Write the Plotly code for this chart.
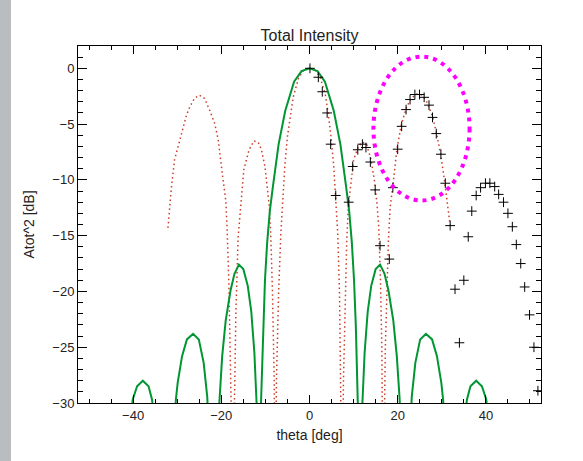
import plotly.graph_objects as go

# ---- data ----
green_x = [-42.0, -40.4, -40.1, -39.1, -37.8, -36.5, -35.7, -35.4, -33.0,
           -30.5, -30.3, -29.9, -28.9, -27.8, -26.4, -25.1, -24.0, -23.2, -23.0, -21.8,
           -20.6, -20.4, -19.8, -19.0, -17.9, -17.0, -16.0, -15.0, -14.0, -13.2, -12.5, -12.0, -11.6,
           -11.3, -11.0, -10.8, -10.5, -10.1, -9.6, -9.0, -8.3, -7.0, -5.5, -3.5, -1.8, 0.0,
           1.8, 3.5, 5.5, 7.0, 8.3, 9.0, 9.6, 10.1, 10.5, 10.8, 11.0, 11.3,
           11.6, 12.0, 12.5, 13.2, 14.0, 15.0, 16.0, 17.0, 17.9, 19.0, 19.8, 20.4, 20.6, 21.8,
           23.0, 23.2, 24.0, 25.1, 26.4, 27.8, 28.9, 29.9, 30.3, 30.5, 33.0,
           35.4, 35.7, 36.5, 37.8, 39.1, 40.1, 40.4, 42.0]
green_y = [-40, -31, -29.7, -28.5, -28.0, -28.5, -29.7, -31, -40,
           -31, -29.7, -28.2, -25.8, -24.3, -23.8, -24.3, -26.4, -29.4, -31, -40,
           -31, -29.4, -25.8, -22.6, -19.9, -18.4, -17.6, -18.0, -19.5, -21.8, -25.5, -30, -40,
           -40, -30, -27, -23, -19, -15.6, -12.8, -10.6, -6.8, -3.8, -1.2, -0.25, 0.0,
           -0.25, -1.2, -3.8, -6.8, -10.6, -12.8, -15.6, -19, -23, -27, -30, -40,
           -40, -30, -25.5, -21.8, -19.5, -18.0, -17.6, -18.4, -19.9, -22.6, -25.8, -29.4, -31, -40,
           -31, -29.4, -26.4, -24.3, -23.8, -24.3, -25.8, -28.2, -29.7, -31, -40,
           -31, -29.7, -28.5, -28.0, -28.5, -29.7, -31, -40]

red_x = [-32.1, -31.7, -31.3, -30.6, -29.4, -28.7, -27.9, -27.2, -26.1, -25.0, -23.8, -22.6,
         -21.5, -20.7, -20.2, -19.6, -19.0, -18.7, -18.3, -17.9, -17.5, -17.3, -17.1, -16.7,
         -16.2, -15.8, -15.4, -14.9, -14.3, -13.7, -12.6, -11.6, -10.9, -10.1, -9.6, -9.1,
         -8.8, -8.4, -8.0, -7.8, -7.5, -7.0, -6.5, -6.1, -5.6, -5.0, -4.4, -3.7, -2.5, -1.4,
         0.0, 1.4, 2.5, 3.6, 4.3, 4.9, 5.5, 6.0, 6.4, 6.8, 7.1, 7.4, 7.7, 8.1, 8.45, 8.8,
         9.4, 10.0, 11.1, 12.0, 13.0, 13.9, 14.7, 15.3, 15.7, 16.1, 16.4, 16.7, 17.2, 17.5,
         17.9, 18.3, 18.9, 19.8, 20.8, 21.9, 23.0, 24.4, 25.5, 26.6, 27.8, 28.75, 29.7, 30.6,
         31.1, 31.5, 31.9]
red_y = [-14.3, -12.4, -10.6, -8.2, -6.4, -5.25, -4.2, -3.5, -2.7, -2.4, -2.7, -3.8,
         -4.95, -6.4, -8.2, -10.0, -11.8, -14.2, -19, -25, -32, -40, -32, -22,
         -15.2, -13.3, -11.2, -9.1, -8.2, -7.3, -6.5, -6.65, -7.3, -8.8, -10.6, -12.4,
         -14.8, -20, -28, -40, -28, -20, -14.8, -11.8, -8.8, -6.1, -4.35, -2.6, -0.9, -0.2,
         0.0, -0.2, -0.9, -2.4, -4.2, -6.2, -8.8, -11.8, -14.8, -20, -28, -40, -28, -20, -15.4, -12.4,
         -10.0, -8.2, -7.0, -6.6, -6.9, -8.1, -10.0, -12.1, -14.2, -19, -25, -40, -25, -20,
         -15.4, -12.4, -10.6, -7.3, -5.1, -3.6, -2.7, -2.3, -2.4, -3.0, -4.2, -5.7, -7.6, -10.0,
         -11.6, -13.0, -14.1]

meas_x = [0.1, 2.0, 2.9, 4.0, 4.8, 5.95, 8.9, 9.8, 10.95, 12.0, 12.8, 13.8, 14.9, 16.0, 18.1,
          18.9, 20.0, 20.9, 21.9, 22.8, 23.9, 24.95, 26.0, 27.1, 27.9, 28.75, 29.8, 30.8, 31.9,
          33.0, 34.0, 35.0, 36.0, 36.8, 37.8, 38.8, 39.9, 40.9, 42.0, 42.9, 44.0, 45.0, 46.0,
          46.9, 47.9, 48.8, 49.9, 50.9, 51.8]
meas_y = [0.0, -0.8, -2.1, -4.0, -6.8, -11.4, -12.0, -8.8, -7.3, -6.8, -7.1, -8.4, -10.9, -15.9, -17.1,
          -10.7, -7.25, -5.2, -3.7, -2.8, -2.35, -2.35, -2.6, -3.3, -4.4, -5.85, -7.7, -10.3, -14.1,
          -19.8, -24.6, -19.0, -15.1, -12.8, -11.4, -10.7, -10.3, -10.3, -10.6, -11.3, -12.0, -13.0, -14.2,
          -15.8, -17.5, -19.6, -22.1, -25.0, -28.9]

ellipse_center = (25.4, -5.4)
ellipse_radius = (10.9, 6.45)

x_range = [-52.5, 52.5]
y_range = [-30, 2]
x_ticks = [-40, -20, 0, 20, 40]
y_ticks = [0, -5, -10, -15, -20, -25, -30]

font = "Liberation Sans"
ink = "#222222"

W, H = 583, 461
ML, MR, MT, MB = 78, 42, 46, 58
PW, PH = W - ML - MR, H - MT - MB

fig = go.Figure()
fig.add_trace(go.Scatter(x=red_x, y=red_y, mode="lines",
                         line=dict(color="rgb(205,60,40)", width=1.5, dash="1.5px,3px"),
                         hoverinfo="skip"))
fig.add_trace(go.Scatter(x=green_x, y=green_y, mode="lines",
                         line=dict(color="rgb(0,150,50)", width=2),
                         hoverinfo="skip"))
fig.add_trace(go.Scatter(x=meas_x, y=meas_y, mode="markers",
                         marker=dict(symbol="cross-thin", size=7,
                                     line=dict(width=1, color="black")),
                         hoverinfo="skip"))

cx, cy = ellipse_center
rx, ry = ellipse_radius
fig.add_shape(type="circle", xref="x", yref="y",
              x0=cx - rx, x1=cx + rx, y0=cy - ry, y1=cy + ry,
              line=dict(color="#ff00ff", width=4, dash="4px,5px"))

# gray strip at left edge of the page
fig.add_shape(type="rect", xref="paper", yref="paper",
              x0=-ML / PW, x1=-(ML - 11) / PW, y0=-MB / PH, y1=1 + MT / PH,
              fillcolor="rgb(185,189,192)", line_width=0, layer="below")

axis_common = dict(showgrid=False, zeroline=False, showline=True, linecolor="black",
                   linewidth=1, mirror="allticks", ticks="inside", tickcolor="black",
                   automargin=False,
                   tickfont=dict(family=font, size=13, color=ink))

fig.update_xaxes(range=x_range, tickvals=x_ticks, ticklen=8,
                 minor=dict(dtick=5, ticklen=4, ticks="inside", tickcolor="black"),
                 title=dict(text="theta [deg]", font=dict(family=font, size=14, color=ink),
                            standoff=8),
                 **axis_common)
fig.update_yaxes(range=y_range, tickvals=y_ticks, ticklen=9,
                 minor=dict(dtick=1, ticklen=5, ticks="inside", tickcolor="black"),
                 title=dict(text="Atot^2 [dB]", font=dict(family=font, size=14, color=ink),
                            standoff=14),
                 **axis_common)

fig.update_layout(
    width=W, height=H,
    margin=dict(l=ML, r=MR, t=MT, b=MB, autoexpand=False),
    paper_bgcolor="white", plot_bgcolor="white",
    showlegend=False,
    title=dict(text="Total Intensity", x=(ML + PW / 2) / W, xanchor="center",
               y=1 - 35 / H, yanchor="middle",
               font=dict(family=font, size=16, color=ink)),
)

fig.write_html("out.html", config={"displayModeBar": False},
               post_script="document.body.style.margin='0px';document.body.style.overflow='hidden';")
